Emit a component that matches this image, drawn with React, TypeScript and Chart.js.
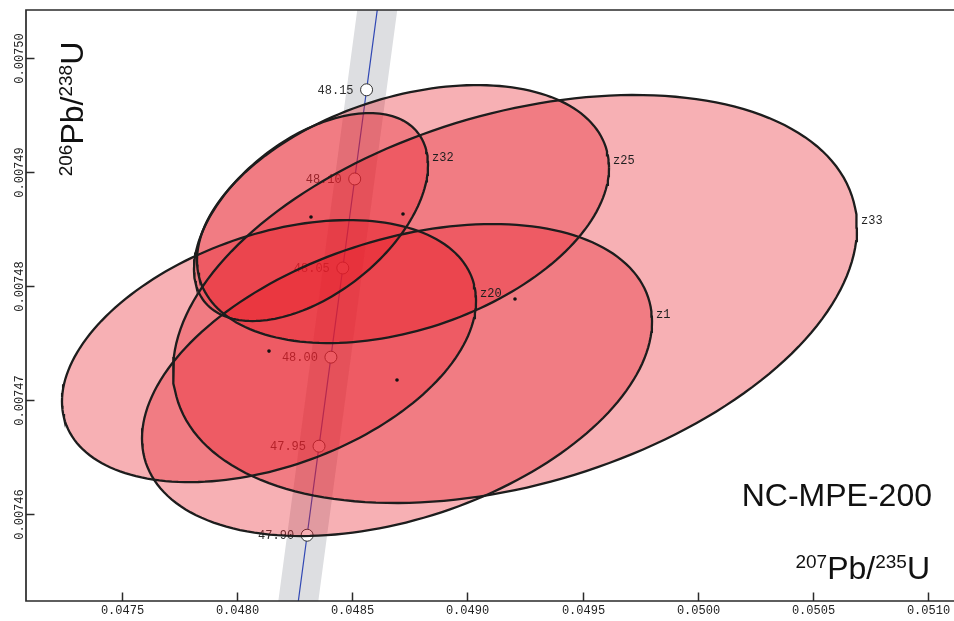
import { useEffect, useRef } from "react";
import { Chart, registerables } from "chart.js";

Chart.register(...registerables);

// Axis ranges and tick values
const xRange = [0.0470846, 0.0511124];
const yRange = [0.0074524, 0.00750424];
const xTicks = [0.0475, 0.048, 0.0485, 0.049, 0.0495, 0.05, 0.0505, 0.051];
const yTicks = [0.00746, 0.00747, 0.00748, 0.00749, 0.0075];

// Concordia curve (age in Ma and its 207Pb/235U, 206Pb/238U coordinates)
const concordiaAge = [47.85, 47.9, 47.95, 48.0, 48.05, 48.1, 48.15, 48.2];
const concordiaX = [0.0482531, 0.0483047, 0.0483564, 0.048408, 0.0484596, 0.0485113, 0.0485628, 0.0486145];
const concordiaY = [0.00745035, 0.00745817, 0.00746598, 0.00747379, 0.00748161, 0.00748942, 0.00749724, 0.00750505];
const markedAges = [47.9, 47.95, 48.0, 48.05, 48.1, 48.15];
// half-width of the decay-constant uncertainty band, in 207Pb/235U units
const bandHalfWidth = 0.0000868;

// Zircon analyses: ratios, 1-sigma errors and error correlation
const grainName = ["z33", "z1", "z25", "z20", "z32"];
const grainX = [0.049207, 0.0486949, 0.0487209, 0.0481393, 0.0483216];
const grainSX = [0.0006064, 0.0004522, 0.0003653, 0.0003671, 0.0002075];
const grainY = [0.00747889, 0.00747178, 0.00748634, 0.00747432, 0.00748608];
const grainSY = [0.000007311, 0.00000559, 0.000004623, 0.000004695, 0.000003727];
const grainRho = [0.35, 0.375, 0.36, 0.385, 0.5];
const confidenceScale = 2.4477; // 95% bivariate confidence

const sampleName = "NC-MPE-200";

const ELLIPSE_FILL = "rgba(232,29,41,0.35)";
const ELLIPSE_EDGE = "#1d1d1d";

function ellipsePoints(i: number) {
  const pts: { x: number; y: number }[] = [];
  const n = 180;
  const r = grainRho[i];
  const q = Math.sqrt(1 - r * r);
  for (let j = 0; j <= n; j++) {
    const a = (j / n) * Math.PI * 2;
    pts.push({
      x: grainX[i] + confidenceScale * grainSX[i] * Math.cos(a),
      y: grainY[i] + confidenceScale * grainSY[i] * (r * Math.cos(a) + q * Math.sin(a)),
    });
  }
  return pts;
}

function bandPoints() {
  const left = concordiaX.map((x, i) => ({ x: x - bandHalfWidth, y: concordiaY[i] }));
  const right = concordiaX.map((x, i) => ({ x: x + bandHalfWidth, y: concordiaY[i] })).reverse();
  return [...left, ...right, left[0]];
}

type Seg = { t: string; sup: boolean };
const xTitle: Seg[] = [
  { t: "207", sup: true },
  { t: "Pb/", sup: false },
  { t: "235", sup: true },
  { t: "U", sup: false },
];
const yTitle: Seg[] = [
  { t: "206", sup: true },
  { t: "Pb/", sup: false },
  { t: "238", sup: true },
  { t: "U", sup: false },
];

const MAIN_FONT = '32px "Liberation Sans", Arial, sans-serif';
const SUP_FONT = '19px "Liberation Sans", Arial, sans-serif';
const MONO = '12px "Liberation Mono", "Courier New", monospace';

function measureSegs(ctx: CanvasRenderingContext2D, segs: Seg[]) {
  let w = 0;
  for (const s of segs) {
    ctx.font = s.sup ? SUP_FONT : MAIN_FONT;
    w += ctx.measureText(s.t).width;
  }
  return w;
}

function drawSegs(ctx: CanvasRenderingContext2D, segs: Seg[], x0: number, baseline: number) {
  let x = x0;
  ctx.textAlign = "left";
  ctx.textBaseline = "alphabetic";
  for (const s of segs) {
    ctx.font = s.sup ? SUP_FONT : MAIN_FONT;
    ctx.fillText(s.t, x, s.sup ? baseline - 11 : baseline);
    x += ctx.measureText(s.t).width;
  }
}

const overlayPlugin = {
  id: "concordiaOverlay",
  afterDatasetDraw(chart: any, args: any) {
    if (args.meta.label !== "ages") return;
    const { ctx, scales } = chart;
    ctx.save();
    ctx.font = MONO;
    ctx.fillStyle = "#2e2e2e";
    ctx.textAlign = "right";
    ctx.textBaseline = "middle";
    markedAges.forEach((age) => {
      const k = concordiaAge.indexOf(age);
      const px = scales.x.getPixelForValue(concordiaX[k]);
      const py = scales.y.getPixelForValue(concordiaY[k]);
      ctx.fillText(age.toFixed(2), px - 13, py + 1);
    });
    ctx.restore();
  },
  afterDatasetsDraw(chart: any) {
    const { ctx, scales, chartArea } = chart;
    const sx = scales.x;
    const sy = scales.y;
    ctx.save();

    // grain labels beside the right-most point of each ellipse
    ctx.font = MONO;
    ctx.fillStyle = "#1f1f1f";
    ctx.textAlign = "left";
    ctx.textBaseline = "middle";
    grainName.forEach((name, i) => {
      const px = sx.getPixelForValue(grainX[i] + confidenceScale * grainSX[i]);
      const py = sy.getPixelForValue(grainY[i] + confidenceScale * grainSY[i] * grainRho[i]);
      ctx.fillText(name, px + 4, py - 7);
    });

    // frame
    const { left, right, top, bottom } = chartArea;
    ctx.strokeStyle = "#2a2a2a";
    ctx.lineWidth = 1.7;
    ctx.beginPath();
    ctx.moveTo(right, top);
    ctx.lineTo(left, top);
    ctx.lineTo(left, bottom);
    ctx.lineTo(right, bottom);
    ctx.stroke();

    // ticks and tick labels
    ctx.lineWidth = 1.5;
    ctx.fillStyle = "#222";
    ctx.font = MONO;
    ctx.textAlign = "center";
    ctx.textBaseline = "middle";
    xTicks.forEach((v) => {
      const px = Math.round(sx.getPixelForValue(v)) + 0.5;
      ctx.beginPath();
      ctx.moveTo(px, bottom);
      ctx.lineTo(px, bottom - 8.5);
      ctx.stroke();
      ctx.fillText(v.toFixed(4), px, bottom + 10);
    });
    yTicks.forEach((v) => {
      const py = Math.round(sy.getPixelForValue(v)) + 0.5;
      ctx.beginPath();
      ctx.moveTo(left, py);
      ctx.lineTo(left + 8.5, py);
      ctx.stroke();
      ctx.save();
      ctx.translate(left - 6, py);
      ctx.rotate(-Math.PI / 2);
      ctx.fillText(v.toFixed(5), 0, 0);
      ctx.restore();
    });

    // sample name and axis titles
    ctx.fillStyle = "#111";
    ctx.font = MAIN_FONT;
    ctx.textAlign = "right";
    ctx.textBaseline = "alphabetic";
    ctx.fillText(sampleName, 932, 506);

    const wx = measureSegs(ctx, xTitle);
    drawSegs(ctx, xTitle, 930 - wx, 579);

    const wy = measureSegs(ctx, yTitle);
    ctx.save();
    ctx.translate(83, 109 + wy / 2);
    ctx.rotate(-Math.PI / 2);
    drawSegs(ctx, yTitle, 0, 0);
    ctx.restore();

    ctx.restore();
  },
};

export default function App() {
  const canvasRef = useRef<HTMLCanvasElement>(null);

  useEffect(() => {
    const canvas = canvasRef.current;
    if (!canvas) return;

    const datasets: any[] = [];
    datasets.push({
      label: "band",
      data: bandPoints(),
      showLine: true,
      fill: "shape",
      backgroundColor: "rgb(221,222,225)",
      borderColor: "rgba(0,0,0,0)",
      pointRadius: 0,
      order: 100,
    });
    datasets.push({
      label: "concordia",
      data: concordiaX.map((x, i) => ({ x, y: concordiaY[i] })),
      showLine: true,
      fill: false,
      borderColor: "#3148b4",
      borderWidth: 1.2,
      pointRadius: 0,
      order: 90,
    });
    datasets.push({
      label: "ages",
      data: markedAges.map((a) => {
        const k = concordiaAge.indexOf(a);
        return { x: concordiaX[k], y: concordiaY[k] };
      }),
      showLine: false,
      pointRadius: 6,
      pointBackgroundColor: "#ffffff",
      pointBorderColor: "#333333",
      pointBorderWidth: 1,
      order: 80,
    });
    grainName.forEach((name, i) => {
      datasets.push({
        label: name + " fill",
        data: ellipsePoints(i),
        showLine: true,
        fill: "shape",
        backgroundColor: ELLIPSE_FILL,
        borderColor: "rgba(0,0,0,0)",
        pointRadius: 0,
        order: 50 - i,
      });
    });
    grainName.forEach((name, i) => {
      datasets.push({
        label: name,
        data: ellipsePoints(i),
        showLine: true,
        fill: false,
        borderColor: ELLIPSE_EDGE,
        borderWidth: 2.3,
        pointRadius: 0,
        order: 20 - i,
      });
    });
    datasets.push({
      label: "centres",
      data: grainX.map((x, i) => ({ x, y: grainY[i] })),
      showLine: false,
      pointRadius: 1.8,
      pointBackgroundColor: "#111",
      pointBorderWidth: 0,
      order: 5,
    });

    const chart = new Chart(canvas, {
      type: "scatter",
      data: { datasets },
      options: {
        responsive: false,
        devicePixelRatio: 1,
        animation: false,
        events: [],
        layout: { autoPadding: false, padding: { left: 26, top: 10, right: 0, bottom: 20 } },
        scales: {
          x: { type: "linear", min: xRange[0], max: xRange[1], display: false },
          y: { type: "linear", min: yRange[0], max: yRange[1], display: false },
        },
        plugins: {
          legend: { display: false },
          tooltip: { enabled: false },
          filler: { propagate: false },
        },
      },
      plugins: [overlayPlugin],
    });
    return () => chart.destroy();
  }, []);

  return (
    <div style={{ position: "fixed", left: 0, top: 0, width: 954, height: 621, background: "#fff" }}>
      <canvas ref={canvasRef} width={954} height={621} style={{ display: "block", width: 954, height: 621 }} />
    </div>
  );
}
